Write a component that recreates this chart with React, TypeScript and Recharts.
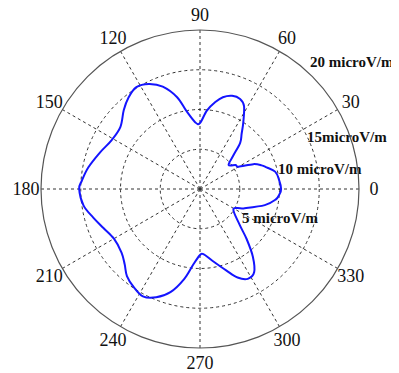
import React from 'react';
import {
  RadarChart,
  Radar,
  PolarGrid,
  PolarAngleAxis,
  PolarRadiusAxis,
  Customized,
} from 'recharts';

// polar pattern: direction in degrees (ccw from east) and field strength in microV/m
const angles = [
  0, 7, 13, 18, 21, 25, 30, 34, 40, 45, 49, 53, 57, 62, 66, 71, 76, 80, 85, 90,
  94, 100, 104, 110, 116, 122, 128, 134, 142, 151, 160, 169, 176, 180, 188, 195,
  202, 210, 219, 225, 230, 236, 242, 248, 254, 260, 265, 270, 273, 280, 288, 293,
  298, 303, 308, 313, 318, 329, 336, 346, 352, 356,
];
const strength = [
  10.2, 10.0, 9.7, 8.8, 8.3, 7.4, 5.6, 5.4, 4.7, 5.9, 7.7, 8.7, 10.0, 11.8, 12.4, 12.4, 11.9, 11.1, 9.9, 8.3,
  8.4, 10.0, 11.9, 13.7, 14.7, 15.1, 14.6, 13.8, 12.7, 12.7, 13.4, 14.3, 14.9, 15.2, 14.8, 13.9,
  13.1, 12.5, 12.7, 13.4, 14.3, 14.9, 15.3, 14.7, 13.5, 11.5, 9.5, 8.3, 8.2, 9.2, 10.8, 12.1,
  12.8, 12.5, 10.8, 8.6, 6.7, 4.9, 6.0, 8.4, 9.6, 10.0,
];

const angleTicks = [0, 30, 60, 90, 120, 150, 180, 210, 240, 270, 300, 330];
const ringTicks = [5, 10, 15];
const ringLabels = ['5 microV/m', '10 microV/m', '15microV/m', '20 microV/m'];

const data = angles.map((a, i) => ({ angle: a, r: strength[i] }));

const W = 399;
const H = 373;
const CX = 200;
const CY = 189;
const R = 159;

const serif = '"Liberation Serif", "Times New Roman", serif';

const AngleTick = (props: any) => {
  const { x, y, payload } = props;
  const a = (payload.coordinate * Math.PI) / 180;
  return (
    <text
      x={x + 7 * Math.cos(a)}
      y={y - 7 * Math.sin(a)}
      textAnchor="middle"
      dominantBaseline="central"
      fontFamily={serif}
      fontSize={18}
      fill="#111"
    >
      {payload.value}
    </text>
  );
};

// closed Catmull-Rom curve through the radar points
const SmoothLoop = (props: any) => {
  const pts: { x: number; y: number }[] = props.points || [];
  const n = pts.length;
  if (n < 3) return null;
  const p = (i: number) => pts[(i + n) % n];
  let d = `M${p(0).x},${p(0).y}`;
  for (let i = 0; i < n; i++) {
    const p0 = p(i - 1);
    const p1 = p(i);
    const p2 = p(i + 1);
    const p3 = p(i + 2);
    const c1x = p1.x + (p2.x - p0.x) / 6;
    const c1y = p1.y + (p2.y - p0.y) / 6;
    const c2x = p2.x - (p3.x - p1.x) / 6;
    const c2y = p2.y - (p3.y - p1.y) / 6;
    d += `C${c1x},${c1y} ${c2x},${c2y} ${p2.x},${p2.y}`;
  }
  return <path d={d + 'Z'} fill="none" stroke="#1414ff" strokeWidth={2} />;
};

// hand-placed ring captions, as in the original figure
const ringLabelPos = [
  { x: 242, y: 218 },
  { x: 278, y: 169 },
  { x: 307, y: 137 },
  { x: 310, y: 62 },
];

const RingLabels = () => (
  <g>
    {ringLabels.map((t, i) => (
      <text
        key={t}
        x={ringLabelPos[i].x}
        y={ringLabelPos[i].y}
        dominantBaseline="central"
        fontFamily={serif}
        fontWeight="bold"
        fontSize={15}
        fill="#111"
      >
        {t}
      </text>
    ))}
  </g>
);

export default function App() {
  return (
    <div style={{ margin: '-8px 0 0 -8px', width: W, height: H }}>
      <RadarChart
        width={W}
        height={H}
        data={data}
        cx={CX}
        cy={CY}
        outerRadius={R}
        startAngle={0}
        endAngle={360}
        margin={{ top: 0, right: 0, bottom: 0, left: 0 }}
      >
        <PolarGrid gridType="circle" stroke="#333" strokeDasharray="3 3" />
        <PolarAngleAxis
          dataKey="angle"
          type="number"
          domain={[0, 360]}
          ticks={angleTicks}
          axisLineType="circle"
          axisLine={{ stroke: '#555', strokeWidth: 1.2 }}
          tickLine={false}
          tick={<AngleTick />}
        />
        <PolarRadiusAxis
          angle={0}
          domain={[0, 20]}
          ticks={ringTicks}
          axisLine={false}
          tick={false}
        />
        <Radar
          dataKey="r"
          shape={<SmoothLoop />}
          dot={false}
          isAnimationActive={false}
        />
        <Customized component={RingLabels} />
      </RadarChart>
    </div>
  );
}
